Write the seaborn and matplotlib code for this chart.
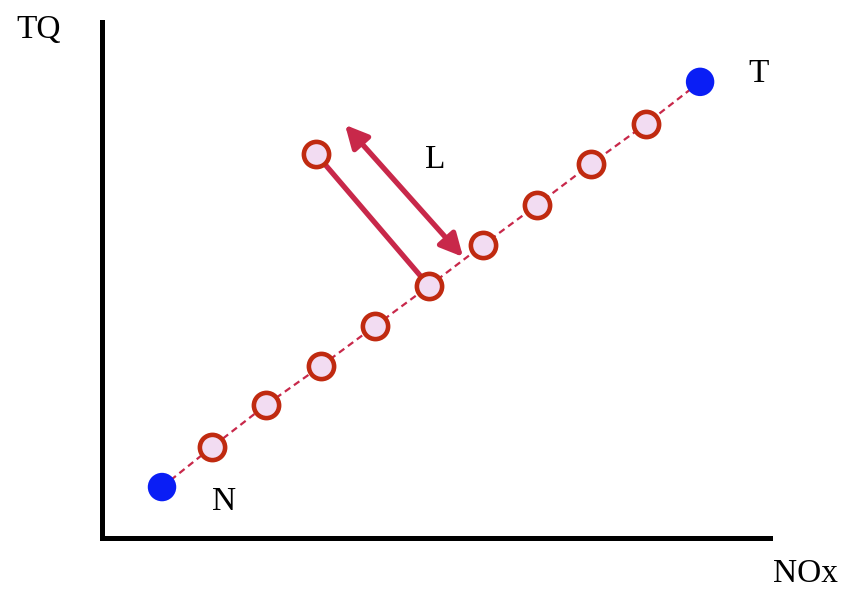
import numpy as np
import pandas as pd
import matplotlib.pyplot as plt
import seaborn as sns

# Data (pixel-based units)
line_x = [60, 110, 164, 219, 273, 327, 381, 435, 489, 544, 598]
line_y = [51, 91, 133, 172, 212, 252, 293, 333, 374, 414, 456]
mid_x = line_x[1:-1]
mid_y = line_y[1:-1]
end_x = [60, 598]
end_y = [51, 456]
end_labels = ["N", "T"]
out_x = [214]
out_y = [384]
out_target = (327, 252)
arrow_from = (243, 413)
arrow_to = (361, 281)

sns.set_style("white")
plt.rcParams['font.family'] = ['Liberation Serif', 'DejaVu Serif']
plt.rcParams['text.color'] = 'black'

fig = plt.figure(figsize=(8.5, 5.9), dpi=100)
ax = fig.add_axes([0.12, 0.088, 0.786, 0.875])

red = "#c8284a"
edge = "#c02a10"

df_line = pd.DataFrame({"x": line_x, "y": line_y})
sns.lineplot(x="x", y="y", data=df_line, ax=ax, color=red, lw=1.6,
             linestyle=(0, (3, 2)), sort=False, zorder=1)

# solid line from outlier to its point on the line
ax.plot([out_x[0], out_target[0]], [out_y[0], out_target[1]], color=red, lw=3.8,
        solid_capstyle="butt", zorder=1)
ax.annotate("", xy=arrow_to, xytext=arrow_from,
            arrowprops=dict(arrowstyle="<|-|>", color=red, lw=3.8,
                            mutation_scale=34, shrinkA=0, shrinkB=0))

df_mid = pd.DataFrame({"x": mid_x + out_x, "y": mid_y + out_y})
sns.scatterplot(x="x", y="y", data=df_mid, ax=ax, s=330, color="#f2dcf2",
                edgecolor=edge, linewidth=3.3, zorder=3)
df_end = pd.DataFrame({"x": end_x, "y": end_y})
sns.scatterplot(x="x", y="y", data=df_end, ax=ax, s=420, color="#0a1ef5",
                edgecolor="none", zorder=3)

ax.text(122, 36, end_labels[0], fontsize=24, ha="center", va="center", color="black")
ax.text(656, 464, end_labels[1], fontsize=24, ha="center", va="center", color="black")
ax.text(333, 378, "L", fontsize=24, ha="center", va="center", color="black")

ax.set_xlim(0, 668)
ax.set_ylim(0, 516)
ax.set_xticks([])
ax.set_yticks([])
ax.set_xlabel("")
ax.set_ylabel("")
for s in ["top", "right"]:
    ax.spines[s].set_visible(False)
for s in ["left", "bottom"]:
    ax.spines[s].set_linewidth(3.6)
    ax.spines[s].set_color("black")

fig.text(39 / 850, 1 - 30 / 590, "TQ", fontsize=24, ha="center", va="center", color="black")
fig.text(805 / 850, 1 - 574 / 590, "NOx", fontsize=24, ha="center", va="center", color="black")

plt.savefig("out.png", dpi=100)
